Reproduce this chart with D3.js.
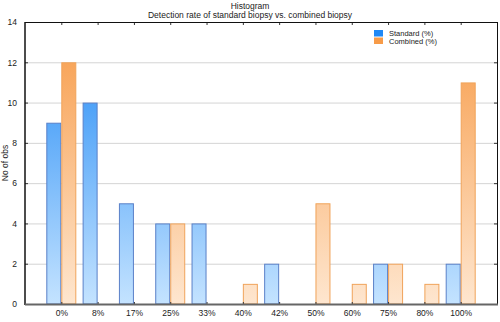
<!DOCTYPE html>
<html><head><meta charset="utf-8">
<script src="https://cdn.jsdelivr.net/npm/d3@7"></script>
<style>body{margin:0;background:#fff}svg{display:block;font-family:"Liberation Sans",Arial,sans-serif}</style>
</head><body><svg id="c" width="500" height="322"></svg>
<script>
const categories = ["0%","8%","17%","25%","33%","40%","42%","50%","60%","75%","80%","100%"];
const standard = [9,10,5,4,4,0,2,0,0,2,0,2];
const combined = [12,0,0,4,0,1,0,5,1,2,1,11];
const yTicks = [0,2,4,6,8,10,12,14];
const seriesNames = ["Standard (%)","Combined (%)"];

const svg = d3.select("#c");
const L=25, R=497, T=22, B=304;
const x = d3.scalePoint().domain(categories).range([L,R]).padding(1);
const y = d3.scaleLinear().domain([0,14]).range([B,T]);
const bw = 15;

const defs = svg.append("defs");
function grad(id, top, bottom){
  const g = defs.append("linearGradient").attr("id",id).attr("gradientUnits","userSpaceOnUse")
    .attr("x1",0).attr("x2",0).attr("y1",y(14)).attr("y2",y(0));
  g.append("stop").attr("offset","0%").attr("stop-color",top);
  g.append("stop").attr("offset","100%").attr("stop-color",bottom);
}
grad("gb","#1f88f5","#c4e3ff");
grad("go","#f79b48","#fee6cf");

// grid
svg.append("g").selectAll("line").data(yTicks.filter(d=>d>0&&d<14)).join("line")
  .attr("x1",L).attr("x2",R).attr("y1",d=>y(d)+0.5).attr("y2",d=>y(d)+0.5)
  .attr("stroke","#d4d4d4").attr("stroke-width",1);

// bars
const data = categories.map((c,i)=>({c, s:standard[i], o:combined[i]}));
svg.append("g").selectAll("rect").data(data.filter(d=>d.s>0)).join("rect")
  .attr("x",d=>x(d.c)-bw+0.5).attr("width",bw-1)
  .attr("y",d=>y(d.s)+0.5).attr("height",d=>y(0)-y(d.s)-0.5)
  .attr("fill","url(#gb)").attr("stroke","#5a80c8").attr("stroke-width",1);
svg.append("g").selectAll("rect").data(data.filter(d=>d.o>0)).join("rect")
  .attr("x",d=>x(d.c)+0.5).attr("width",bw-1)
  .attr("y",d=>y(d.o)+0.5).attr("height",d=>y(0)-y(d.o)-0.5)
  .attr("fill","url(#go)").attr("stroke","#f0a35a").attr("stroke-width",1);

// axes
const fs = 8.5;
const yAx = svg.append("g").attr("transform",`translate(${L},0)`)
  .call(d3.axisLeft(y).tickValues(yTicks).tickSize(-3).tickPadding(8));
yAx.select(".domain").remove();
yAx.selectAll("line").attr("stroke","#333");
yAx.selectAll("text").attr("font-size",fs).attr("fill","#222").attr("font-family","Liberation Sans, Arial, sans-serif");

const yAxR = svg.append("g").attr("transform",`translate(${R},0)`)
  .call(d3.axisRight(y).tickValues(yTicks).tickSize(-3).tickFormat(""));
yAxR.select(".domain").remove();
yAxR.selectAll("line").attr("stroke","#333");

const xAx = svg.append("g").attr("transform",`translate(0,${B})`)
  .call(d3.axisBottom(x).tickSize(-2).tickPadding(6));
xAx.select(".domain").remove();
xAx.selectAll("line").attr("stroke","#333");
xAx.selectAll("text").attr("font-size",fs).attr("fill","#222").attr("font-family","Liberation Sans, Arial, sans-serif");

const xAxT = svg.append("g").attr("transform",`translate(0,${T})`)
  .call(d3.axisTop(x).tickSize(-3).tickFormat(""));
xAxT.select(".domain").remove();
xAxT.selectAll("line").attr("stroke","#333");

// frame
svg.append("line").attr("x1",L).attr("x2",R).attr("y1",T+0.5).attr("y2",T+0.5).attr("stroke","#111");
svg.append("line").attr("x1",R+0.5).attr("x2",R+0.5).attr("y1",T).attr("y2",B).attr("stroke","#111");
svg.append("line").attr("x1",L).attr("x2",L).attr("y1",T).attr("y2",B+1).attr("stroke","#111").attr("stroke-width",1.5);
svg.append("line").attr("x1",L).attr("x2",R+1).attr("y1",B+0.5).attr("y2",B+0.5).attr("stroke","#666").attr("stroke-width",2);

// titles
svg.append("text").attr("x",250).attr("y",9).attr("text-anchor","middle").attr("font-size",fs).attr("fill","#222").text("Histogram");
svg.append("text").attr("x",250).attr("y",18).attr("text-anchor","middle").attr("font-size",fs).attr("fill","#222").text("Detection rate of standard biopsy vs. combined biopsy");
svg.append("text").attr("transform",`translate(8,${(T+B)/2}) rotate(-90)`).attr("text-anchor","middle").attr("font-size",fs).attr("fill","#222").text("No of obs");

// legend
const lg = svg.append("g").attr("transform","translate(374,30)");
const lcol = ["#1f88f5","#f79b48"];
seriesNames.forEach((n,i)=>{
  lg.append("rect").attr("x",0).attr("y",i*7.5).attr("width",9).attr("height",6.5).attr("fill",lcol[i]);
  lg.append("text").attr("x",15).attr("y",i*7.5+6).attr("font-size",7.5).attr("fill","#222").text(n);
});
</script></body></html>
